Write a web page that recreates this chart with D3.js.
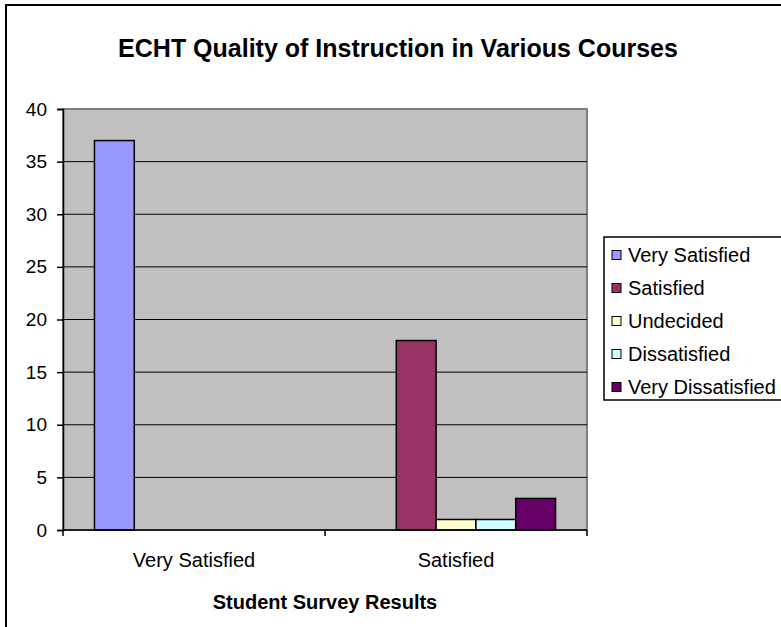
<!DOCTYPE html>
<html>
<head>
<meta charset="utf-8">
<script src="https://cdn.jsdelivr.net/npm/d3@7"></script>
<style>
  body { margin: 0; background: #fff; }
  svg { display: block; font-family: Arial, "Liberation Sans", sans-serif; }
</style>
</head>
<body>
<svg id="chart" width="781" height="627"></svg>
<script>
// data
var categories = ["Very Satisfied", "Satisfied"];
var seriesNames = ["Very Satisfied", "Satisfied", "Undecided", "Dissatisfied", "Very Dissatisfied"];
var seriesColors = ["#9999ff", "#993366", "#ffffcc", "#ccffff", "#660066"];
// one array per series, one value per category
var verySatisfiedVals = [37, 0];
var satisfiedVals = [0, 18];
var undecidedVals = [0, 1];
var dissatisfiedVals = [0, 1];
var veryDissatisfiedVals = [0, 3];
var yTicks = [0, 5, 10, 15, 20, 25, 30, 35, 40];

var seriesVals = [verySatisfiedVals, satisfiedVals, undecidedVals, dissatisfiedVals, veryDissatisfiedVals];

var svg = d3.select("#chart");

// outer chart frame (runs off the right and bottom of the window)
svg.append("rect")
  .attr("x", 6).attr("y", 5)
  .attr("width", 800).attr("height", 640)
  .attr("fill", "#fff")
  .attr("stroke", "#000")
  .attr("stroke-width", 2);

var plot = { left: 63, top: 109, right: 587, bottom: 530 };

var x0 = d3.scaleBand()
  .domain(categories)
  .range([plot.left, plot.right])
  .paddingInner(0)
  .paddingOuter(0);

var x1 = d3.scaleBand()
  .domain(seriesNames)
  .range([0, x0.bandwidth()])
  .paddingInner(0)
  .paddingOuter(0.79);

var y = d3.scaleLinear()
  .domain([0, 40])
  .range([plot.bottom, plot.top]);

// plot background
svg.append("rect")
  .attr("x", plot.left).attr("y", plot.top)
  .attr("width", plot.right - plot.left)
  .attr("height", plot.bottom - plot.top)
  .attr("fill", "#c0c0c0")
  .attr("stroke", "#808080")
  .attr("stroke-width", 2);

// gridlines
svg.append("g").selectAll("line")
  .data(yTicks.filter(function(d) { return d > 0 && d < 40; }))
  .enter().append("line")
  .attr("x1", plot.left).attr("x2", plot.right)
  .attr("y1", function(d) { return y(d); })
  .attr("y2", function(d) { return y(d); })
  .attr("stroke", "#000")
  .attr("stroke-width", 1);

// bars
var groups = svg.append("g").selectAll("g")
  .data(categories)
  .enter().append("g")
  .attr("transform", function(d) { return "translate(" + x0(d) + ",0)"; });

groups.selectAll("rect")
  .data(function(c, ci) {
    return seriesNames.map(function(s, si) {
      return { series: s, value: seriesVals[si][ci], color: seriesColors[si] };
    }).filter(function(d) { return d.value > 0; });
  })
  .enter().append("rect")
  .attr("x", function(d) { return x1(d.series); })
  .attr("y", function(d) { return y(d.value); })
  .attr("width", x1.bandwidth())
  .attr("height", function(d) { return y(0) - y(d.value); })
  .attr("fill", function(d) { return d.color; })
  .attr("stroke", "#000")
  .attr("stroke-width", 1.5);

// y axis
var yAxis = svg.append("g")
  .attr("transform", "translate(" + plot.left + ",0)")
  .call(d3.axisLeft(y).tickValues(yTicks).tickSize(6).tickPadding(10));
yAxis.select(".domain").attr("stroke", "#000").attr("stroke-width", 1.5);
yAxis.selectAll(".tick line").attr("stroke", "#000").attr("stroke-width", 1.5);
yAxis.selectAll("text").attr("font-size", 19).attr("fill", "#000")
  .attr("font-family", "Arial, 'Liberation Sans', sans-serif");

// x axis
var xAxisG = svg.append("g")
  .attr("transform", "translate(0," + plot.bottom + ")");
xAxisG.append("line")
  .attr("x1", plot.left).attr("x2", plot.right)
  .attr("stroke", "#000").attr("stroke-width", 1.5);
xAxisG.selectAll("line.tk")
  .data([plot.left].concat(categories.map(function(c) { return x0(c) + x0.bandwidth(); })))
  .enter().append("line")
  .attr("class", "tk")
  .attr("x1", function(d) { return d; }).attr("x2", function(d) { return d; })
  .attr("y1", 0).attr("y2", 6)
  .attr("stroke", "#000").attr("stroke-width", 1.5);
xAxisG.selectAll("text")
  .data(categories)
  .enter().append("text")
  .attr("x", function(d) { return x0(d) + x0.bandwidth() / 2; })
  .attr("y", 37)
  .attr("text-anchor", "middle")
  .attr("font-size", 20)
  .text(function(d) { return d; });

// titles
svg.append("text")
  .attr("x", 398).attr("y", 57)
  .attr("text-anchor", "middle")
  .attr("font-size", 25)
  .attr("font-weight", "bold")
  .text("ECHT Quality of Instruction in Various Courses");

svg.append("text")
  .attr("x", (plot.left + plot.right) / 2).attr("y", 609)
  .attr("text-anchor", "middle")
  .attr("font-size", 20)
  .attr("font-weight", "bold")
  .text("Student Survey Results");

// legend
var legend = svg.append("g").attr("transform", "translate(604,237)");
legend.append("rect")
  .attr("width", 200).attr("height", 163)
  .attr("fill", "#fff")
  .attr("stroke", "#000")
  .attr("stroke-width", 1.5);

var items = legend.selectAll("g.item")
  .data(seriesNames)
  .enter().append("g")
  .attr("class", "item")
  .attr("transform", function(d, i) { return "translate(0," + (18 + i * 33) + ")"; });

items.append("rect")
  .attr("x", 8).attr("y", -4.5)
  .attr("width", 9).attr("height", 9)
  .attr("fill", function(d, i) { return seriesColors[i]; })
  .attr("stroke", "#000")
  .attr("stroke-width", 1);

items.append("text")
  .attr("x", 24).attr("y", 7)
  .attr("font-size", 20)
  .text(function(d) { return d; });
</script>
</body>
</html>
